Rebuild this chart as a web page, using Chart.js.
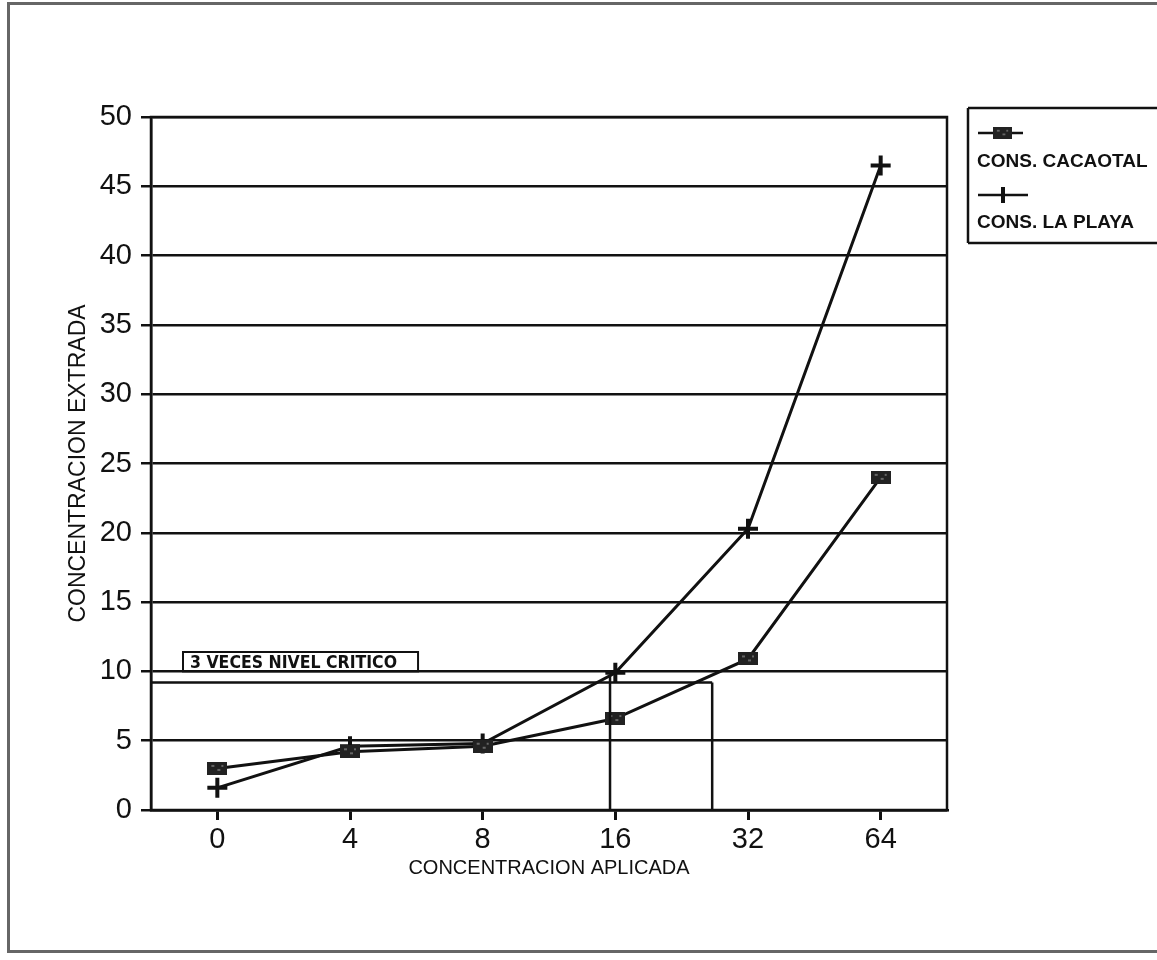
<!DOCTYPE html>
<html>
<head>
<meta charset="utf-8">
<script src="https://cdn.jsdelivr.net/npm/chart.js@4.4.1/dist/chart.umd.min.js"></script>
<style>
  html, body { margin: 0; padding: 0; background: #fff; }
  #wrap { position: relative; width: 1157px; height: 960px; overflow: hidden; }
  #frame { position: absolute; left: 7px; top: 2px; width: 1170px; height: 951px;
           border: 3px solid #666; border-right: none; box-sizing: border-box; }
  canvas { position: absolute; left: 0; top: 0; }
</style>
</head>
<body>
<div id="wrap">
  <div id="frame"></div>
  <canvas id="myChart" width="1157" height="960"></canvas>
</div>
<script>
// Datos
const categories = ["0", "4", "8", "16", "32", "64"];
const cacaotal = [3.0, 4.2, 4.6, 6.6, 10.9, 24.0];
const laPlaya = [1.6, 4.6, 4.8, 9.9, 20.3, 46.5];
const yTicks = [0, 5, 10, 15, 20, 25, 30, 35, 40, 45, 50];
const seriesNames = ["CONS. CACAOTAL", "CONS. LA PLAYA"];

// Nivel critico y cortes dibujados a mano (indice de categoria)
const criticalLevel = 9.2;
const criticalLabel = "3 VECES NIVEL CRITICO";
const criticalCuts = [2.96, 3.73];
const labelBox = [11.4, 10.0]; // arriba / abajo, en unidades del eje y

const ink = "#111";

// marcador rectangular para Cacaotal
function squareMarker() {
  const c = document.createElement("canvas");
  c.width = 20; c.height = 13;
  const g = c.getContext("2d");
  g.fillStyle = "#222";
  g.fillRect(0, 0, 20, 13);
  g.fillStyle = "#666";
  g.fillRect(4, 3, 3, 2); g.fillRect(10, 7, 3, 2); g.fillRect(14, 3, 2, 2);
  return c;
}
const sqMark = squareMarker();

const framePlugin = {
  id: "framePlugin",
  afterDraw(chart) {
    const { ctx, chartArea: a, scales: { x, y } } = chart;
    ctx.save();
    ctx.strokeStyle = ink;
    ctx.lineWidth = 2.5;
    ctx.strokeRect(a.left, a.top, a.right - a.left, a.bottom - a.top);

    // linea del nivel critico y verticales
    const yc = y.getPixelForValue(criticalLevel);
    const x1 = x.getPixelForValue(criticalCuts[0]);
    const x2 = x.getPixelForValue(criticalCuts[1]);
    ctx.lineWidth = 2.5;
    ctx.beginPath();
    ctx.moveTo(a.left, yc); ctx.lineTo(x2, yc);
    ctx.moveTo(x1, yc - 7); ctx.lineTo(x1, a.bottom);
    ctx.moveTo(x2, yc); ctx.lineTo(x2, a.bottom);
    ctx.stroke();

    // caja con la etiqueta
    ctx.font = "bold 17.5px 'DejaVu Sans Condensed', 'DejaVu Sans'";
    const tw = ctx.measureText(criticalLabel).width;
    const bx = a.left + 32;
    const by = y.getPixelForValue(labelBox[0]);
    const bh = y.getPixelForValue(labelBox[1]) - by;
    ctx.lineWidth = 2;
    ctx.strokeRect(bx, by, tw + 28, bh);
    ctx.fillStyle = ink;
    ctx.textBaseline = "alphabetic";
    ctx.fillText(criticalLabel, bx + 7, by + bh - 3);

    // leyenda
    const lx = a.right + 21, ly = a.top - 9;
    ctx.lineWidth = 2.5;
    ctx.beginPath();
    ctx.moveTo(lx, ly); ctx.lineTo(chart.width + 5, ly);
    ctx.moveTo(lx, ly); ctx.lineTo(lx, ly + 135);
    ctx.moveTo(lx, ly + 135); ctx.lineTo(chart.width + 5, ly + 135);
    ctx.stroke();

    ctx.lineWidth = 2.5;
    ctx.beginPath();
    ctx.moveTo(lx + 10, ly + 25); ctx.lineTo(lx + 55, ly + 25);
    ctx.moveTo(lx + 10, ly + 87); ctx.lineTo(lx + 60, ly + 87);
    ctx.stroke();
    ctx.drawImage(sqMark, lx + 25, ly + 19, 19, 12);
    ctx.lineWidth = 4;
    ctx.beginPath();
    ctx.moveTo(lx + 35, ly + 79); ctx.lineTo(lx + 35, ly + 95);
    ctx.stroke();

    ctx.font = "bold 19px 'Liberation Sans'";
    ctx.fillText(seriesNames[0], lx + 9, ly + 59);
    ctx.fillText(seriesNames[1], lx + 9, ly + 120);
    ctx.restore();
  }
};

const ctx = document.getElementById("myChart").getContext("2d");
const chart = new Chart(ctx, {
  type: "line",
  data: {
    labels: categories,
    datasets: [
      {
        label: seriesNames[0],
        data: cacaotal,
        borderColor: ink,
        borderWidth: 3,
        pointStyle: sqMark,
        tension: 0
      },
      {
        label: seriesNames[1],
        data: laPlaya,
        borderColor: ink,
        borderWidth: 3,
        pointStyle: "cross",
        pointRadius: 10,
        pointBorderWidth: 4,
        pointBorderColor: ink,
        tension: 0
      }
    ]
  },
  options: {
    responsive: false,
    animation: false,
    layout: { padding: { left: 0, top: 117, right: 210, bottom: 0 } },
    plugins: { legend: { display: false }, tooltip: { enabled: false } },
    scales: {
      x: {
        offset: true,
        grid: { drawOnChartArea: false, drawTicks: true, tickLength: 10, color: ink, lineWidth: 3 },
        border: { color: ink, width: 2.5 },
        ticks: { color: ink, font: { family: "Liberation Sans", size: 29 }, padding: 3 },
        title: {
          display: true, text: "CONCENTRACION APLICADA", color: ink,
          font: { family: "Liberation Sans", size: 20 }, padding: { bottom: 80 }
        },
        afterFit: s => { s.height = 150; }
      },
      y: {
        min: 0, max: 50,
        afterBuildTicks: s => { s.ticks = yTicks.map(v => ({ value: v })); },
        grid: { color: ink, lineWidth: 2.5, tickLength: 10 },
        border: { color: ink, width: 2.5 },
        ticks: { color: ink, font: { family: "Liberation Sans", size: 29 }, padding: 9 },
        title: {
          display: true, text: "CONCENTRACION EXTRADA", color: ink,
          font: { family: "Liberation Sans", size: 23 }, padding: { top: 65 }
        },
        afterFit: s => { s.width = 151; }
      }
    }
  },
  plugins: [framePlugin]
});
</script>
</body>
</html>
